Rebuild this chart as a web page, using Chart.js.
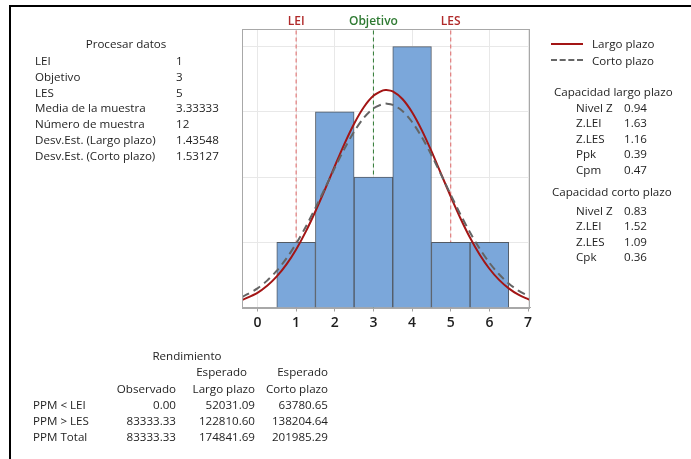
<!DOCTYPE html>
<html lang="es">
<head>
<meta charset="UTF-8">
<title>Capacidad de proceso</title>
<script src="https://cdn.jsdelivr.net/npm/chart.js"></script>
<style>
  body { margin: 0; background: #fff; font-family: "Open Sans", sans-serif; font-size: 11.6px; color: #1e1e1e; }
  #page { position: relative; width: 691px; height: 459px; overflow: hidden; }
  #frame { position: absolute; left: 9px; top: 5px; width: 720px; height: 480px; border-top: 2px solid #000; border-left: 2px solid #000; }
  canvas { position: absolute; left: 0; top: 0; }
  .t { position: absolute; white-space: nowrap; line-height: 16px; height: 16px; }
  .leg { position: absolute; width: 32px; height: 0; }
</style>
</head>
<body>
<div id="page">
  <div id="frame"></div>
  <canvas id="chart" width="691" height="459"></canvas>
  <div class="leg" style="left:551px; top:43px; border-top:2px solid #a31515;"></div>
  <div class="leg" style="left:551px; top:59px; border-top:2px dashed #666;"></div>
  <div id="texts"></div>
</div>

<script>
  // histogram bins (width 1)
  const binCenters = [1, 2, 3, 4, 5, 6];
  const binCounts = [1, 3, 2, 4, 1, 1];

  // fitted curves
  const curveX = [-0.4, 0, 0.25, 0.5, 0.75, 1, 1.25, 1.5, 1.75, 2, 2.25, 2.5, 2.75, 3, 3.25, 3.33,
                  3.5, 3.75, 4, 4.25, 4.5, 4.75, 5, 5.25, 5.5, 5.75, 6, 6.25, 6.5, 6.75, 7, 7.05];
  const largoY = [0.113, 0.225, 0.332, 0.476, 0.661, 0.890, 1.163, 1.476, 1.815, 2.167, 2.509, 2.818, 3.071, 3.246, 3.329, 3.335,
                  3.313, 3.197, 2.994, 2.720, 2.397, 2.049, 1.700, 1.368, 1.068, 0.808, 0.594, 0.423, 0.293, 0.196, 0.128, 0.117];
  const cortoY = [0.160, 0.293, 0.412, 0.564, 0.753, 0.979, 1.239, 1.527, 1.832, 2.140, 2.434, 2.696, 2.908, 3.053, 3.122, 3.126,
                  3.108, 3.013, 2.844, 2.614, 2.339, 2.038, 1.729, 1.428, 1.149, 0.900, 0.686, 0.510, 0.369, 0.259, 0.178, 0.163];

  const specNames = ['LEI', 'Objetivo', 'LES'];
  const specValues = [1, 3, 5];
  const specColors = ['#b02a2a', '#2e7a32', '#b02a2a'];
  const specLineColors = ['#e06666', '#2e7a32', '#e06666'];

  const xTicks = [0, 1, 2, 3, 4, 5, 6, 7];
  const yGrid = [1, 2, 3, 4];
  const xMin = -0.4, xMax = 7.05, yMax = 4.27;

  // text panels
  const procLabels = ['LEI', 'Objetivo', 'LES', 'Media de la muestra', 'Número de muestra', 'Desv.Est. (Largo plazo)', 'Desv.Est. (Corto plazo)'];
  const procValues = ['1', '3', '5', '3.33333', '12', '1.43548', '1.53127'];
  const largoLabels = ['Nivel Z', 'Z.LEI', 'Z.LES', 'Ppk', 'Cpm'];
  const largoValues = ['0.94', '1.63', '1.16', '0.39', '0.47'];
  const cortoLabels = ['Nivel Z', 'Z.LEI', 'Z.LES', 'Cpk'];
  const cortoValues = ['0.83', '1.52', '1.09', '0.36'];
  const ppmLabels = ['PPM < LEI', 'PPM > LES', 'PPM Total'];
  const ppmObservado = ['0.00', '83333.33', '83333.33'];
  const ppmLargo = ['52031.09', '122810.60', '174841.69'];
  const ppmCorto = ['63780.65', '138204.64', '201985.29'];

  const box = document.getElementById('texts');
  function put(text, x, y, align) {
    const d = document.createElement('div');
    d.className = 't';
    d.textContent = text;
    d.style.left = x + 'px';
    d.style.top = (y - 8) + 'px';
    if (align === 'r') d.style.transform = 'translateX(-100%)';
    if (align === 'c') d.style.transform = 'translateX(-50%)';
    box.appendChild(d);
  }

  put('Procesar datos', 126, 44, 'c');
  procLabels.forEach((s, i) => {
    put(s, 35, 61 + i * 15.8, 'l');
    put(procValues[i], 176, 61 + i * 15.8, 'l');
  });

  put('Largo plazo', 592, 44, 'l');
  put('Corto plazo', 592, 60.5, 'l');
  put('Capacidad largo plazo', 554, 92, 'l');
  largoLabels.forEach((s, i) => {
    put(s, 576, 107.5 + i * 15.5, 'l');
    put(largoValues[i], 624, 107.5 + i * 15.5, 'l');
  });
  put('Capacidad corto plazo', 552, 191.5, 'l');
  cortoLabels.forEach((s, i) => {
    put(s, 576, 211 + i * 15.4, 'l');
    put(cortoValues[i], 624, 211 + i * 15.4, 'l');
  });

  put('Rendimiento', 187, 355.5, 'c');
  put('Esperado', 247, 372, 'r');
  put('Esperado', 328, 372, 'r');
  put('Observado', 176, 388.5, 'r');
  put('Largo plazo', 255, 388.5, 'r');
  put('Corto plazo', 328, 388.5, 'r');
  ppmLabels.forEach((s, i) => {
    const y = 405 + i * 16;
    put(s, 33, y, 'l');
    put(ppmObservado[i], 176, y, 'r');
    put(ppmLargo[i], 255, y, 'r');
    put(ppmCorto[i], 328, y, 'r');
  });

  Chart.defaults.font.family = '"Open Sans", sans-serif';

  const specLabelPlugin = {
    id: 'specLabels',
    afterDraw(chart) {
      const ctx = chart.ctx;
      const xs = chart.scales.x;
      const area = chart.chartArea;
      ctx.save();
      ctx.strokeStyle = '#a8a8a8';
      ctx.lineWidth = 1;
      ctx.strokeRect(Math.round(area.left) + 0.5, Math.round(area.top) + 0.5,
                     Math.round(area.right - area.left) - 1, Math.round(area.bottom - area.top));
      ctx.font = '600 12px "Open Sans", sans-serif';
      ctx.textAlign = 'center';
      ctx.textBaseline = 'middle';
      specNames.forEach((n, i) => {
        ctx.fillStyle = specColors[i];
        ctx.fillText(n, xs.getPixelForValue(specValues[i]), 22);
      });
      ctx.restore();
    }
  };

  const datasets = [];
  specValues.forEach((v, i) => {
    datasets.push({
      type: 'line',
      data: [{ x: v, y: 0 }, { x: v, y: yMax }],
      borderColor: specLineColors[i],
      borderWidth: 1,
      borderDash: [4, 3],
      pointRadius: 0,
      order: 3
    });
  });
  datasets.push({
    type: 'bar',
    data: binCenters.map((x, i) => ({ x: x, y: binCounts[i] })),
    backgroundColor: '#7ba7da',
    borderColor: '#525a64',
    borderWidth: 1,
    barPercentage: 1,
    categoryPercentage: 1,
    order: 2
  });
  datasets.push({
    type: 'line',
    data: curveX.map((x, i) => ({ x: x, y: largoY[i] })),
    borderColor: '#a31515',
    borderWidth: 2,
    pointRadius: 0,
    tension: 0.3,
    order: 1
  });
  datasets.push({
    type: 'line',
    data: curveX.map((x, i) => ({ x: x, y: cortoY[i] })),
    borderColor: '#646464',
    borderWidth: 2,
    borderDash: [8, 5],
    pointRadius: 0,
    tension: 0.3,
    order: 0
  });

  new Chart(document.getElementById('chart'), {
    type: 'line',
    data: { datasets: datasets },
    plugins: [specLabelPlugin],
    options: {
      responsive: false,
      animation: false,
      layout: { padding: { left: 242, right: 161, top: 29, bottom: 121.5 } },
      plugins: { legend: { display: false }, tooltip: { enabled: false } },
      scales: {
        x: {
          type: 'linear',
          min: xMin,
          max: xMax,
          offset: false,
          afterBuildTicks: s => { s.ticks = xTicks.map(v => ({ value: v })); },
          afterFit: s => { s.height = 30; },
          grid: { color: '#e8e8e8', tickColor: '#a0a0a0', tickLength: 4, offset: false },
          border: { color: '#a8a8a8' },
          ticks: { color: '#1e1e1e', padding: 3, font: { size: 14, weight: '600' } }
        },
        y: {
          min: 0,
          max: yMax,
          afterBuildTicks: s => { s.ticks = yGrid.map(v => ({ value: v })); },
          afterFit: s => { s.width = 0; },
          grid: { color: '#e8e8e8', drawTicks: false },
          border: { display: false },
          ticks: { display: false }
        }
      }
    }
  });
</script>
</body>
</html>
